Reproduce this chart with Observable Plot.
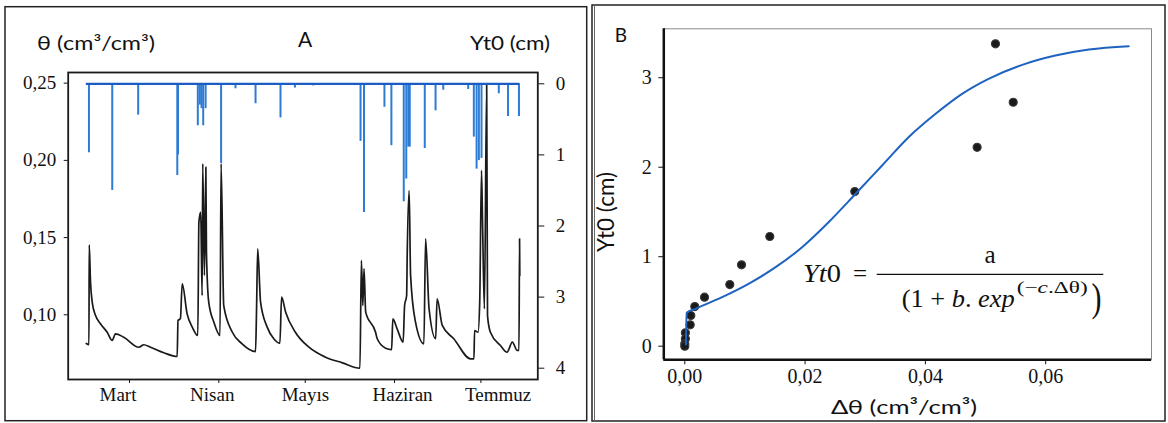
<!DOCTYPE html>
<html><head><meta charset="utf-8">
<script src="https://cdn.jsdelivr.net/npm/d3@7"></script>
<script src="https://cdn.jsdelivr.net/npm/@observablehq/plot@0.6"></script>
<style>
body{margin:0;background:#fff;}
#wrap{position:relative;width:1168px;height:423px;overflow:hidden;background:#fff;}
#wrap > svg{position:absolute;top:0;}
</style></head><body><div id="wrap"></div>
<script>
// ---------- Panel A data ----------
const thetaTime = ["2019-02-14T00","2019-02-14T22","2019-02-15T00","2019-02-15T11","2019-02-16T01","2019-02-17T05","2019-02-18T22","2019-02-21T06","2019-02-23T00","2019-02-24T03","2019-02-27T00","2019-03-04T06","2019-03-05T23","2019-03-08T07","2019-03-12T22","2019-03-17T13","2019-03-17T20","2019-03-18T16","2019-03-19T07","2019-03-21T00","2019-03-22T19","2019-03-24T17","2019-03-25T02","2019-03-25T17","2019-03-26T05","2019-03-26T10","2019-03-27T00","2019-03-27T12","2019-03-27T17","2019-03-28T12","2019-03-30T07","2019-04-01T10","2019-04-01T19","2019-04-02T17","2019-04-05T17","2019-04-09T02","2019-04-13T18","2019-04-14T02","2019-04-14T12","2019-04-15T12","2019-04-17T19","2019-04-20T02","2019-04-22T05","2019-04-22T19","2019-04-24T05","2019-04-27T14","2019-05-02T07","2019-05-08T02","2019-05-13T22","2019-05-20T00","2019-05-20T12","2019-05-21T00","2019-05-21T10","2019-05-22T00","2019-05-25T10","2019-05-26T00","2019-05-28T22","2019-05-31T00","2019-05-31T10","2019-06-01T22","2019-06-04T00","2019-06-04T12","2019-06-05T05","2019-06-05T10","2019-06-06T02","2019-06-06T14","2019-06-08T07","2019-06-11T05","2019-06-11T19","2019-06-13T00","2019-06-15T07","2019-06-15T19","2019-06-17T14","2019-06-21T14","2019-06-27T10","2019-06-28T14","2019-06-28T19","2019-06-30T00","2019-06-30T14","2019-07-01T05","2019-07-01T14","2019-07-02T05","2019-07-03T00","2019-07-03T07","2019-07-04T07","2019-07-07T19","2019-07-10T02","2019-07-11T22","2019-07-13T14","2019-07-14T05","2019-07-14T10","2019-07-14T12"];
const thetaValue = [0.0814,0.0806,0.1453,0.1211,0.1082,0.0995,0.0942,0.0887,0.0834,0.0877,0.0855,0.0790,0.0806,0.0790,0.0754,0.0730,0.0963,0.0975,0.1201,0.1006,0.0920,0.0866,0.1600,0.1665,0.1125,0.1978,0.1255,0.1956,0.1405,0.1082,0.0952,0.0866,0.1978,0.1060,0.0887,0.0812,0.0762,0.1017,0.1427,0.1082,0.0920,0.0845,0.0816,0.1114,0.1017,0.0887,0.0790,0.0725,0.0689,0.0654,0.1352,0.1060,0.1298,0.1017,0.0887,0.0845,0.0784,0.0775,0.0974,0.0909,0.0823,0.1060,0.1125,0.1395,0.1805,0.1255,0.0952,0.0812,0.1492,0.1039,0.0845,0.1104,0.0931,0.0845,0.0715,0.0715,0.0898,0.0887,0.1082,0.1935,0.1580,0.1039,0.2490,0.0995,0.0887,0.0801,0.0758,0.0823,0.0769,0.0769,0.1492,0.1255];

const ytTime = ["2019-02-14T22","2019-02-23T00","2019-03-04T00","2019-03-17T14","2019-03-17T20","2019-03-24T17","2019-03-25T10","2019-03-26T00","2019-03-26T14","2019-03-27T10","2019-04-01T19","2019-04-06T19","2019-04-13T18","2019-04-22T10","2019-04-27T10","2019-05-03T19","2019-05-20T05","2019-05-21T10","2019-05-28T12","2019-05-30T22","2019-06-04T05","2019-06-05T02","2019-06-05T19","2019-06-06T07","2019-06-11T12","2019-06-15T06","2019-06-17T22","2019-06-26T14","2019-06-28T13","2019-06-29T12","2019-06-30T07","2019-07-01T05","2019-07-07T05","2019-07-10T10","2019-07-14T05"];
const ytValue = [0.97,1.50,0.44,1.29,1.00,0.59,0.30,0.35,0.59,0.35,1.12,0.07,0.28,0.48,0.06,0.03,0.81,1.81,0.33,0.87,1.66,1.34,0.89,0.89,0.91,0.38,0.09,0.08,0.75,1.20,1.08,1.05,0.14,0.46,0.46];

const aXDomain = ["2019-02-07T17","2019-07-20T18"];
const thetaDomain = [0.0581, 0.2569];
const ytDomain = [-0.159, 4.159];
const monthTicks = ["2019-03-01T00","2019-04-01T00","2019-05-01T00","2019-06-01T00","2019-07-01T00"];
const monthLabels = ["Mart","Nisan","Mayıs","Haziran","Temmuz"];
const monthLabelAt = ["2019-02-25T00","2019-03-29T17","2019-05-01T02","2019-06-03T19","2019-07-06T23"];
const thetaTicks = [0.10, 0.15, 0.20, 0.25];
const ytTicks = [0, 1, 2, 3, 4];

// ---------- Panel B data ----------
const dTheta = [0.05165,0.0546,0.0486,0.02826,0.01413,0.00943,0.00748,0.00328,0.00166,0.0010,0.0009,0.0001,0.0001,0.0,0.0];
const ytObs  = [3.379,2.726,2.223,1.728,1.226,0.909,0.689,0.548,0.443,0.343,0.239,0.150,0.083,0.027,0.0];
const fitDTheta = [0.0002,0.0003,0.0018,0.0062,0.0106,0.0151,0.0195,0.0239,0.0284,0.0328,0.0372,0.0417,0.0461,0.0505,0.0561,0.0616,0.0672,0.0738];
const fitYt     = [0.02,0.373,0.418,0.548,0.697,0.883,1.106,1.385,1.703,2.019,2.335,2.597,2.820,2.988,3.144,3.248,3.315,3.352];
const bXDomain = [-0.00349, 0.07759];
const bYDomain = [-0.152, 3.547];
const bXTicks = [0, 0.02, 0.04, 0.06];
const bYTicks = [0, 1, 2, 3];

// ---------- helpers ----------
const utc = s => new Date(s + ":00Z");
const fmt2 = d => d.toFixed(2).replace(".", ",");
const fmt0 = d => String(d);
const wrap = document.getElementById("wrap");
const baseStyle = {fontFamily:"'Liberation Serif', serif", fontSize:"19px", background:"transparent", color:"#111", overflow:"visible"};

const thetaRows = thetaTime.map((t,i) => ({t: utc(t), v: thetaValue[i]}));
const ytRows = ytTime.map((t,i) => ({t: utc(t), v: ytValue[i]}));
const baseRow = [{y: 0, x1: thetaRows[0].t, x2: thetaRows[thetaRows.length-1].t}];
const labMap = new Map(monthLabelAt.map((s,i) => [+utc(s), monthLabels[i]]));
const aDims = {width:590, height:423, marginLeft:67.7, marginRight:52.7, marginTop:72, marginBottom:44};

const plotA1 = Plot.plot({
  ...aDims, style: baseStyle,
  x: {type:"utc", domain: aXDomain.map(utc)},
  y: {domain: thetaDomain},
  marks: [
    Plot.line(thetaRows, {x:"t", y:"v", stroke:"#1a1a1a", strokeWidth:1.7, curve:"monotone-x"}),
    Plot.axisY({ticks: thetaTicks, anchor:"left", tickSize:4, tickPadding:8, tickFormat: fmt2, label:null}),
    Plot.axisX({ticks: monthTicks.map(utc), anchor:"bottom", tickSize:4, tickFormat: () => "", label:null}),
    Plot.axisX({ticks: monthLabelAt.map(utc), anchor:"bottom", tickSize:0, tickPadding:8, tickFormat: d => labMap.get(+d), label:null}),
    Plot.frame({stroke:"#1a1a1a", strokeWidth:1.8})
  ]
});
plotA1.style.left = "0px";
wrap.appendChild(plotA1);

const plotA2 = Plot.plot({
  ...aDims, style: baseStyle,
  x: {type:"utc", domain: aXDomain.map(utc), axis:null},
  y: {domain: ytDomain, reverse:true},
  marks: [
    Plot.ruleX(ytRows, {x:"t", y1:0, y2:"v", stroke:"#2e7bd4", strokeWidth:2}),
    Plot.ruleY(baseRow, {y:"y", x1:"x1", x2:"x2", stroke:"#1b5cc4", strokeWidth:2.2}),
    Plot.axisY({ticks: ytTicks, anchor:"right", tickSize:6, tickPadding:12, tickFormat: fmt0, label:null})
  ]
});
plotA2.style.left = "0px";
wrap.appendChild(plotA2);

const obsRows = dTheta.map((d,i) => ({x:d, y:ytObs[i]}));
const fitRows = fitDTheta.map((d,i) => ({x:d, y:fitYt[i]}));
const plotB = Plot.plot({
  width:578, height:423, marginLeft:73.3, marginRight:17, marginTop:28.3, marginBottom:63.7,
  style: {...baseStyle, fontSize:"20px"},
  x: {domain: bXDomain},
  y: {domain: bYDomain},
  marks: [
    Plot.frame({stroke:"#8a8a8a", strokeWidth:1}),
    Plot.dot(obsRows, {x:"x", y:"y", r:4, fill:"#1a1a1a", stroke:"#3a3a3a", strokeWidth:1.2}),
    Plot.line(fitRows, {x:"x", y:"y", stroke:"#1f63c0", strokeWidth:2, curve:"monotone-x"}),
    Plot.axisX({ticks: bXTicks, tickSize:5, tickPadding:4, tickFormat: fmt2, label:null}),
    Plot.axisY({ticks: bYTicks, tickSize:5, tickPadding:7, tickFormat: fmt0, label:null}),
    Plot.ruleY([bYDomain[0]], {stroke:"#111", strokeWidth:2.5}),
    Plot.ruleX([bXDomain[0]], {stroke:"#111", strokeWidth:2.5})
  ]
});
plotB.style.left = "590px";
wrap.appendChild(plotB);

// ---------- overlay: boxes, titles, equation ----------
const ns = "http://www.w3.org/2000/svg";
const ov = document.createElementNS(ns, "svg");
ov.setAttribute("width", 1168); ov.setAttribute("height", 423);
ov.style.left = "0px"; ov.style.pointerEvents = "none";
ov.innerHTML = `
<rect x="5" y="6.7" width="581.7" height="414" fill="none" stroke="#222" stroke-width="1.5"/>
<rect x="592" y="5" width="573" height="416" fill="none" stroke="#222" stroke-width="1.5"/>
<line x1="594.5" x2="594.5" y1="5" y2="421" stroke="#666" stroke-width="1"/>
<g font-family="Lato, 'Open Sans', sans-serif" fill="#111">
  <text x="37" y="50" font-size="19" textLength="118" lengthAdjust="spacingAndGlyphs">θ (cm³/cm³)</text>
  <text x="305" y="47" font-size="21" text-anchor="middle">A</text>
  <text x="470" y="50" font-size="19" textLength="80" lengthAdjust="spacingAndGlyphs">Yt0 (cm)</text>
  <text x="621" y="42" font-size="19" text-anchor="middle">B</text>
  <text transform="translate(614,212) rotate(-90)" font-size="22.5" text-anchor="middle">Yt0 (cm)</text>
  <text x="904" y="414" font-size="20" text-anchor="middle" textLength="146" lengthAdjust="spacingAndGlyphs">Δθ (cm³/cm³)</text>
</g>
<g font-family="'Liberation Serif', serif" fill="#111">
  <text x="803" y="282" font-size="25" font-style="italic" textLength="38" lengthAdjust="spacingAndGlyphs">Yt<tspan font-style="normal">0</tspan></text>
  <text x="860" y="282" font-size="25" text-anchor="middle">=</text>
  <text x="990" y="263" font-size="25" text-anchor="middle">a</text>
  <line x1="876.7" x2="1103.3" y1="274.3" y2="274.3" stroke="#111" stroke-width="1.3"/>
  <text x="901.7" y="306.7" font-size="25" textLength="113" lengthAdjust="spacingAndGlyphs">(1 + <tspan font-style="italic">b</tspan>. <tspan font-style="italic">exp</tspan></text>
  <text x="1016.7" y="293" font-size="17" textLength="71" lengthAdjust="spacingAndGlyphs">(−<tspan font-style="italic">c</tspan>.Δθ)</text>
  <text transform="translate(1091.5,311) scale(0.75,1)" font-size="40">)</text>
</g>`;
wrap.appendChild(ov);
</script>
</body></html>
